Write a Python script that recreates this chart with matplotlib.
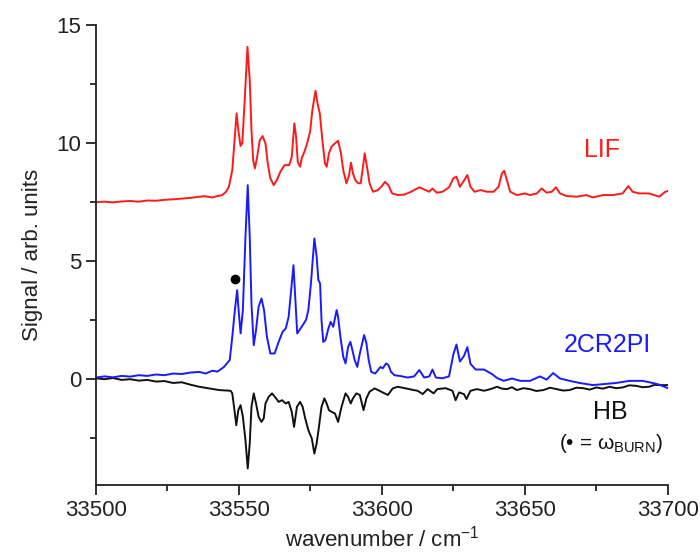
# -*- coding: utf-8 -*-

import matplotlib
matplotlib.use("Agg")
import matplotlib.pyplot as plt
from matplotlib.ticker import MultipleLocator

# LIF spectrum (red), offset upwards
lif_x = [33500, 33503, 33506, 33509, 33512, 33515, 33518, 33521, 33524, 33527,
         33530, 33533, 33536.1, 33538, 33540.7, 33542.5, 33544.2, 33545.5, 33546.5, 33547.7,
         33548.5, 33549.2, 33549.8, 33550.6, 33551.2, 33552.1, 33553.0, 33553.8, 33554.4, 33555.0,
         33555.6, 33556.4, 33557.3, 33558.3, 33559.3, 33560.1, 33561.0, 33562.2, 33563.3, 33564.5,
         33566.0, 33567.6, 33568.5, 33569.4, 33570.0, 33570.6, 33571.4, 33572.0, 33572.9, 33573.7,
         33574.9, 33575.7, 33576.8, 33577.5, 33578.3, 33579.2, 33580.1, 33580.7, 33581.5, 33582.4,
         33583.6, 33584.7, 33585.7, 33586.5, 33587.6, 33588.5, 33589.2, 33589.9, 33590.7, 33591.7,
         33592.6, 33593.4, 33594.0, 33594.8, 33595.7, 33596.9, 33598.6, 33599.8, 33601.1, 33602.3,
         33603.6, 33605.6, 33607.9, 33610.2, 33613.1, 33614.8, 33616.6, 33617.7, 33619.2, 33621.2,
         33623.5, 33625.0, 33626.1, 33627.3, 33628.7, 33629.9, 33631.0, 33632.4, 33634.5, 33636.8,
         33639.1, 33640.8, 33642.0, 33642.8, 33643.7, 33644.9, 33647.2, 33650.1, 33651.8, 33654.2,
         33655.9, 33657.6, 33659.4, 33660.9, 33662.3, 33664.6, 33668.1, 33671.5, 33673.8, 33677.3,
         33680.8, 33684.2, 33686.2, 33687.7, 33690.0, 33693.5, 33697.0, 33699.1, 33700]
lif_y = [7.48, 7.50, 7.47, 7.51, 7.53, 7.50, 7.55, 7.54, 7.58, 7.60,
         7.63, 7.66, 7.71, 7.73, 7.68, 7.74, 7.78, 7.92, 8.13, 8.84,
         10.11, 11.24, 10.53, 9.86, 9.97, 11.95, 14.06, 12.65, 10.53, 9.26,
         8.91, 9.40, 10.11, 10.28, 9.97, 9.12, 8.49, 8.20, 8.42, 8.77,
         9.05, 9.05, 9.40, 10.82, 10.25, 9.19, 8.98, 9.35, 9.61, 9.90,
         10.46, 11.38, 12.20, 11.66, 11.24, 10.11, 9.12, 8.98, 9.55, 9.83,
         9.97, 10.08, 9.55, 8.84, 8.28, 8.60, 9.15, 8.70, 8.42, 8.28,
         8.28, 8.98, 9.55, 8.98, 8.28, 7.92, 7.99, 8.13, 8.34, 8.20,
         7.85, 7.78, 7.80, 7.92, 8.11, 8.02, 7.92, 8.06, 7.88, 7.92,
         8.11, 8.49, 8.56, 8.13, 8.39, 8.63, 8.13, 7.92, 7.99, 7.92,
         7.92, 8.13, 8.70, 8.81, 8.42, 7.92, 7.78, 7.85, 7.78, 7.85,
         8.06, 7.88, 7.92, 8.11, 7.85, 7.74, 7.71, 7.78, 7.68, 7.78,
         7.78, 7.85, 8.16, 7.92, 7.85, 7.85, 7.71, 7.92, 7.95]

# 2CR2PI spectrum (blue)
rpi_x = [33500, 33503, 33506, 33509, 33512, 33515, 33518, 33521, 33524, 33527,
         33530, 33533, 33536.1, 33538.4, 33540.7, 33542.5, 33544.8, 33546.8, 33547.7, 33548.6,
         33549.4, 33549.9, 33550.6, 33551.4, 33552.3, 33553.1, 33553.8, 33554.4, 33555.2, 33556.0,
         33556.9, 33557.9, 33558.8, 33559.8, 33561.0, 33562.5, 33563.9, 33565.3, 33566.4, 33567.4,
         33568.5, 33569.1, 33569.7, 33570.4, 33571.4, 33572.5, 33573.5, 33574.3, 33575.2, 33576.4,
         33577.2, 33577.8, 33578.4, 33578.9, 33579.5, 33580.3, 33581.3, 33582.1, 33583.0, 33584.2,
         33584.7, 33585.5, 33586.5, 33587.3, 33588.2, 33589.0, 33589.7, 33590.5, 33591.4, 33592.3,
         33593.8, 33594.6, 33595.4, 33596.3, 33597.7, 33598.6, 33599.5, 33600.3, 33601.5, 33602.3,
         33603.2, 33604.4, 33606.7, 33609.0, 33611.3, 33613.1, 33614.8, 33616.6, 33617.7, 33618.9,
         33621.2, 33623.5, 33625.0, 33626.1, 33627.3, 33628.7, 33629.9, 33631.0, 33632.8, 33635.7,
         33638.5, 33640.3, 33642.6, 33645.5, 33648.4, 33651.8, 33655.3, 33657.6, 33659.9, 33662.3,
         33665.7, 33669.2, 33673.8, 33677.3, 33681.9, 33686.6, 33691.2, 33694.7, 33697.0, 33700]
rpi_y = [0.05, 0.10, 0.06, 0.12, 0.09, 0.15, 0.12, 0.18, 0.15, 0.22,
         0.20, 0.26, 0.29, 0.22, 0.34, 0.30, 0.50, 0.79, 1.78, 2.91,
         3.75, 2.91, 1.92, 2.91, 6.01, 8.20, 6.01, 3.19, 1.42, 2.06,
         3.05, 3.40, 2.91, 1.78, 1.07, 1.07, 1.56, 1.99, 2.13, 2.62,
         4.04, 4.81, 3.47, 1.92, 2.10, 2.30, 2.50, 2.91, 4.04, 5.94,
         5.17, 4.18, 4.04, 2.48, 1.56, 1.64, 2.13, 2.41, 2.20, 2.91,
         2.62, 1.78, 0.93, 0.65, 1.35, 1.56, 1.21, 0.79, 0.50, 1.07,
         1.85, 1.50, 0.79, 0.29, 0.22, 0.36, 0.50, 0.44, 0.65, 0.58,
         0.29, 0.15, 0.11, 0.05, 0.10, 0.37, 0.05, 0.10, 0.39, 0.05,
         0.02, 0.10, 1.03, 1.45, 0.73, 0.96, 1.34, 0.63, 0.39, 0.39,
         0.20, 0.03, -0.09, 0.01, -0.09, -0.09, 0.10, -0.04, 0.24, 0.01,
         -0.09, -0.18, -0.27, -0.23, -0.18, -0.09, -0.09, -0.18, -0.25, -0.40]

# hole burning spectrum (black), negative going
hb_x = [33500, 33503, 33506, 33509, 33512, 33515, 33518, 33521, 33524, 33527,
        33530, 33533, 33536.1, 33539.6, 33543.1, 33547.1, 33547.7, 33548.3, 33549.1, 33549.8,
        33550.6, 33551.4, 33552.3, 33553.1, 33553.8, 33554.4, 33555.2, 33556.0, 33556.9, 33557.9,
        33558.7, 33559.3, 33560.4, 33561.6, 33563.0, 33563.9, 33565.1, 33566.4, 33567.4, 33568.5,
        33569.3, 33570.3, 33571.4, 33572.3, 33573.2, 33574.3, 33575.5, 33576.4, 33577.2, 33578.0,
        33578.9, 33579.9, 33580.7, 33581.5, 33582.4, 33583.6, 33584.7, 33585.9, 33587.3, 33588.2,
        33589.1, 33589.9, 33591.1, 33592.3, 33593.6, 33594.6, 33595.7, 33597.5, 33599.8, 33602.1,
        33603.8, 33605.6, 33608.0, 33610.3, 33612.5, 33614.3, 33616.0, 33618.1, 33619.4, 33622.3,
        33624.7, 33625.8, 33627.0, 33628.7, 33629.6, 33631.0, 33633.3, 33635.7, 33638.0, 33640.3,
        33642.0, 33643.8, 33645.5, 33647.2, 33649.5, 33651.8, 33654.0, 33656.5, 33658.8, 33661.1,
        33663.4, 33665.7, 33668.0, 33670.4, 33672.7, 33675.0, 33677.3, 33679.6, 33681.9, 33684.2,
        33686.5, 33688.9, 33691.2, 33693.5, 33695.3, 33697.0, 33700]
hb_y = [0.02, -0.02, 0.03, -0.05, -0.02, -0.08, -0.05, -0.12, -0.10, -0.18,
        -0.15, -0.25, -0.34, -0.41, -0.48, -0.51, -0.62, -1.19, -1.97, -1.33,
        -1.12, -1.61, -2.60, -3.80, -2.74, -1.19, -0.62, -1.05, -1.61, -1.83,
        -1.68, -1.05, -0.77, -0.62, -0.83, -0.98, -0.91, -1.05, -0.98, -1.40,
        -2.04, -1.19, -0.98, -1.19, -1.68, -2.18, -2.53, -3.17, -2.74, -2.04,
        -1.19, -0.83, -1.05, -1.33, -1.40, -1.47, -1.83, -1.19, -0.62, -0.77,
        -1.05, -0.83, -0.62, -0.69, -1.33, -0.83, -0.55, -0.41, -0.55, -0.69,
        -0.41, -0.34, -0.40, -0.46, -0.51, -0.65, -0.44, -0.62, -0.44, -0.40,
        -0.51, -0.91, -0.58, -0.65, -0.86, -0.51, -0.44, -0.51, -0.44, -0.34,
        -0.42, -0.44, -0.36, -0.48, -0.40, -0.44, -0.52, -0.48, -0.38, -0.44,
        -0.50, -0.48, -0.38, -0.40, -0.46, -0.37, -0.42, -0.34, -0.40, -0.37,
        -0.28, -0.30, -0.36, -0.34, -0.26, -0.27, -0.27]

# burn wavenumber marker
burn_x = [33548.5]
burn_y = [4.21]

plt.rcParams['font.family'] = ['Liberation Sans', 'DejaVu Sans']
plt.rcParams['mathtext.fontset'] = 'custom'
plt.rcParams['mathtext.rm'] = 'Liberation Sans'
plt.rcParams['mathtext.it'] = 'Liberation Sans:italic'

fig = plt.figure(figsize=(7, 5.6), dpi=100)
ax = fig.add_axes([0.137, 0.134, 0.817, 0.822])

ax.plot(lif_x, lif_y, color='#ff1a1a', linewidth=1.4)
ax.plot(hb_x, hb_y, color='#111111', linewidth=1.4)
ax.plot(rpi_x, rpi_y, color='#1a1aff', linewidth=1.4)
ax.plot(burn_x, burn_y, 'o', color='black', markersize=6)

ax.text(33677, 9.7, 'LIF', color='#ff1a1a', fontsize=18, ha='center', va='center')
ax.text(33679, 1.45, '2CR2PI', color='#1a1aff', fontsize=18, ha='center', va='center')
ax.text(33680, -1.4, 'HB', color='#111111', fontsize=18, ha='center', va='center')
ax.text(33680, -2.75, '(\u2022 = \u03c9$_{\\mathrm{BURN}}$)', color='#111111', fontsize=15,
        ha='center', va='center')

ax.set_xlim(33500, 33700)
ax.set_ylim(-4.5, 15)
ax.xaxis.set_major_locator(MultipleLocator(50))
ax.xaxis.set_minor_locator(MultipleLocator(25))
ax.yaxis.set_major_locator(MultipleLocator(5))
ax.yaxis.set_minor_locator(MultipleLocator(2.5))

ax.spines['top'].set_visible(False)
ax.spines['right'].set_visible(False)
for s in ['left', 'bottom']:
    ax.spines[s].set_linewidth(1.3)
    ax.spines[s].set_color('#222222')
ax.tick_params(which='major', direction='out', length=7, width=1.3, labelsize=16,
               colors='#222222')
ax.tick_params(which='minor', direction='out', length=4, width=1.3, colors='#222222')

ax.set_xlabel('wavenumber / cm$^{-1}$', fontsize=16, color='#222222')
ax.set_ylabel('Signal / arb. units', fontsize=16, color='#222222', labelpad=10)

fig.savefig('out.png', dpi=100)
